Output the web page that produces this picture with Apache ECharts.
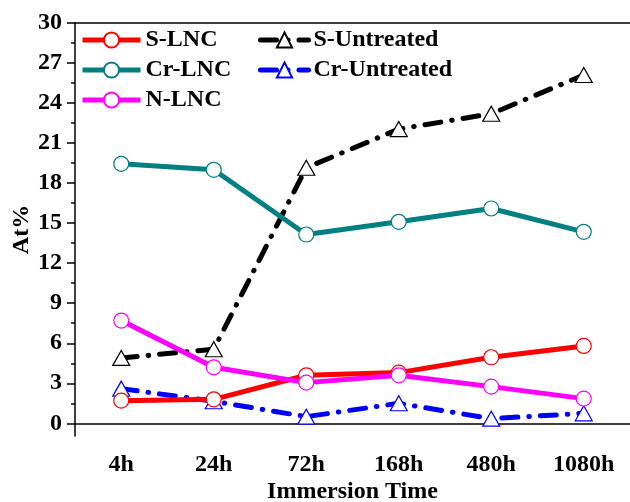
<!DOCTYPE html>
<html>
<head>
<meta charset="utf-8">
<script src="https://cdn.jsdelivr.net/npm/echarts@6/dist/echarts.min.js"></script>
<style>
  html, body { margin: 0; padding: 0; background: #fff; }
  #chart { width: 630px; height: 502px; }
</style>
</head>
<body>
<div id="chart"></div>
<script>
// Immersion times (categories)
const times = ['4h', '24h', '72h', '168h', '480h', '1080h'];

// Atomic percentages per element and treatment
const sLNC = [1.7, 1.8, 3.6, 3.8, 4.95, 5.8];
const crLNC = [19.45, 19.0, 14.15, 15.1, 16.1, 14.35];
const nLNC = [7.7, 4.2, 3.05, 3.6, 2.75, 1.85];
const sUntreated = [4.9, 5.55, 19.15, 22.05, 23.2, 26.1];
const crUntreated = [2.6, 1.65, 0.5, 1.5, 0.35, 0.75];

// Axis ticks
const yMajorTicks = [0, 3, 6, 9, 12, 15, 18, 21, 24, 27, 30];
const yMinorTicks = [1.5, 4.5, 7.5, 10.5, 13.5, 16.5, 19.5, 22.5, 25.5, 28.5];
const yMin = -0.95;
const yMax = 30;

const FONT = '"Liberation Serif", "Times New Roman", serif';
const dashDot = [16, 11, 0.5, 11];

function solidSeries(name, data, color) {
  return {
    name, type: 'line', data,
    symbol: 'circle', symbolSize: 15,
    lineStyle: { color, width: 5 },
    itemStyle: { color: '#fff', borderColor: color, borderWidth: 1.2 },
    z: 3
  };
}
function dashSeries(name, data, color) {
  return {
    name, type: 'line', data,
    symbol: 'triangle', symbolSize: [17, 15],
    lineStyle: { color, width: 5, type: dashDot, cap: 'round' },
    itemStyle: { color: '#fff', borderColor: color, borderWidth: 1.2 },
    z: 2
  };
}

const legendText = { fontFamily: FONT, fontWeight: 'bold', fontSize: 24, color: '#000' };
const axisText = { fontFamily: FONT, fontWeight: 'bold', fontSize: 24, color: '#000' };

const option = {
  animation: false,
  backgroundColor: '#fff',
  grid: { left: 75, right: 0, top: 23, bottom: 66, containLabel: false, outerBoundsMode: 'none' },
  legend: [
    {
      data: ['S-LNC', 'Cr-LNC', 'N-LNC'],
      orient: 'vertical', left: 75, top: 23,
      itemWidth: 58, itemHeight: 19, itemGap: 6, itemTextGap: 6,
      lineStyle: { width: 5 },
      textStyle: legendText
    },
    {
      data: ['S-Untreated', 'Cr-Untreated'],
      orient: 'vertical', left: 253, top: 23,
      itemWidth: 48, itemHeight: 19, itemGap: 6, itemTextGap: 9,
      lineStyle: { width: 5 },
      textStyle: legendText
    }
  ],
  xAxis: [
    {
      type: 'category', data: times, boundaryGap: true,
      name: 'Immersion Time', nameLocation: 'middle', nameGap: 44, nameMoveOverlap: false,
      nameTextStyle: axisText,
      axisLine: { lineStyle: { color: '#000', width: 1.5 } },
      axisTick: { alignWithLabel: true, length: 9, lineStyle: { color: '#000', width: 1.5 } },
      axisLabel: Object.assign({ margin: 17 }, axisText),
      splitLine: { show: false }
    },
    {
      type: 'category', data: times, boundaryGap: true, position: 'bottom',
      axisLine: { show: false },
      axisTick: { length: 4, lineStyle: { color: '#000', width: 1.5 } },
      axisLabel: { show: false },
      splitLine: { show: false }
    },
    {
      type: 'category', data: times, boundaryGap: true, position: 'top',
      axisLine: { lineStyle: { color: '#000', width: 1.5 } },
      axisTick: { show: false },
      axisLabel: { show: false },
      splitLine: { show: false }
    }
  ],
  yAxis: [
    {
      type: 'value', min: yMin, max: yMax,
      name: 'At%', nameLocation: 'middle', nameGap: 41, nameMoveOverlap: false,
      nameTextStyle: axisText,
      axisLine: { show: true, lineStyle: { color: '#000', width: 1.5 } },
      axisTick: { show: true, length: 8, customValues: yMajorTicks, lineStyle: { color: '#000', width: 1.5 } },
      axisLabel: Object.assign({ customValues: yMajorTicks, margin: 13 }, axisText),
      splitLine: { show: false }
    },
    {
      type: 'value', min: yMin, max: yMax, position: 'left',
      axisLine: { show: false },
      axisTick: { show: true, length: 4, customValues: yMinorTicks, lineStyle: { color: '#000', width: 1.5 } },
      axisLabel: { show: false },
      splitLine: { show: false }
    }
  ],
  series: [
    solidSeries('S-LNC', sLNC, '#ff0000'),
    solidSeries('Cr-LNC', crLNC, '#008080'),
    solidSeries('N-LNC', nLNC, '#ff00ff'),
    dashSeries('S-Untreated', sUntreated, '#000000'),
    dashSeries('Cr-Untreated', crUntreated, '#0000ff')
  ]
};

const chart = echarts.init(document.getElementById('chart'), null, { renderer: 'canvas' });
chart.setOption(option);
</script>
</body>
</html>
